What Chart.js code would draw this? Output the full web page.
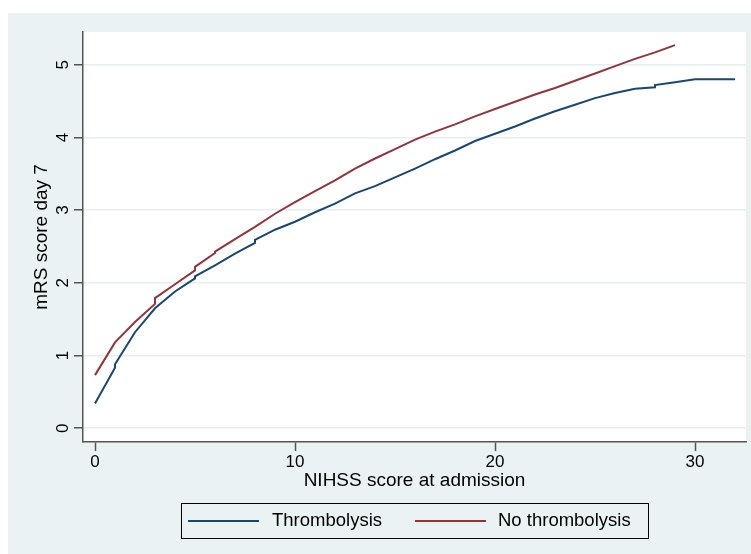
<!DOCTYPE html>
<html>
<head>
<meta charset="utf-8">
<script src="https://cdn.jsdelivr.net/npm/chart.js@4.4.0/dist/chart.umd.min.js"></script>
<style>
  html, body { margin: 0; padding: 0; background: #fff; }
</style>
</head>
<body>
<canvas id="myChart" width="751" height="554"></canvas>
<script>
// data (NIHSS score vs predicted mRS at day 7)
var thrombX = [0, 1, 1, 2, 3, 4, 5, 5, 6, 7, 8, 8, 9, 10, 11, 12, 13, 14, 15, 16, 17, 18, 19, 20, 21, 22, 23, 24, 25, 26, 27, 28, 28, 29, 30, 31, 32];
var thrombY = [0.34, 0.83, 0.88, 1.32, 1.65, 1.88, 2.06, 2.09, 2.24, 2.40, 2.55, 2.59, 2.73, 2.84, 2.97, 3.09, 3.23, 3.33, 3.45, 3.57, 3.70, 3.82, 3.95, 4.05, 4.15, 4.26, 4.36, 4.45, 4.54, 4.61, 4.67, 4.69, 4.72, 4.76, 4.80, 4.80, 4.80];

var noThrombX = [0, 1, 2, 3, 3, 4, 5, 5, 6, 6, 7, 8, 9, 10, 11, 12, 13, 14, 15, 16, 17, 18, 19, 20, 21, 22, 23, 24, 25, 26, 27, 28, 29];
var noThrombY = [0.73, 1.18, 1.46, 1.71, 1.79, 1.98, 2.17, 2.22, 2.41, 2.43, 2.60, 2.77, 2.95, 3.11, 3.26, 3.41, 3.57, 3.71, 3.84, 3.97, 4.08, 4.18, 4.29, 4.39, 4.49, 4.59, 4.68, 4.78, 4.88, 4.98, 5.08, 5.17, 5.27];

var seriesNames = ['Thrombolysis', 'No thrombolysis'];
var seriesColors = ['#1a476f', '#90353b'];
var xTicks = [0, 10, 20, 30];
var yTicks = [0, 1, 2, 3, 4, 5];
var xTitle = 'NIHSS score at admission';
var yTitle = 'mRS score day 7';

function toPoints(xs, ys) {
    return xs.map(function (x, i) { return { x: x, y: ys[i] }; });
}

var FONT = '"Liberation Sans", Arial, sans-serif';
var BG = '#eaf2f3';

// backgrounds, rotated y labels, axis titles and the boxed legend
var stataLook = {
    id: 'stataLook',
    beforeDraw: function (chart) {
        var c = chart.ctx, a = chart.chartArea;
        c.save();
        c.fillStyle = '#ffffff';
        c.fillRect(0, 0, chart.width, chart.height);
        c.fillStyle = BG;
        c.fillRect(8, 13, chart.width - 8, chart.height - 13);
        c.fillStyle = '#ffffff';
        c.fillRect(a.left, a.top, a.right - a.left, a.bottom - a.top);
        c.restore();
    },
    afterDraw: function (chart) {
        var c = chart.ctx, a = chart.chartArea;
        var ys = chart.scales.y;
        c.save();
        c.fillStyle = '#000';
        c.textAlign = 'center';
        c.textBaseline = 'middle';

        // y tick labels, turned like the original
        c.font = '17px ' + FONT;
        yTicks.forEach(function (v) {
            var py = ys.getPixelForValue(v);
            c.save();
            c.translate(63, py);
            c.rotate(-Math.PI / 2);
            c.fillText(String(v), 0, 0);
            c.restore();
        });

        // axis titles
        c.font = '19px ' + FONT;
        c.fillText(xTitle, (a.left + a.right) / 2, 481);
        c.save();
        c.translate(42, (a.top + a.bottom) / 2);
        c.rotate(-Math.PI / 2);
        c.fillText(yTitle, 0, 0);
        c.restore();

        // legend
        c.strokeStyle = '#000';
        c.lineWidth = 1;
        c.strokeRect(181.5, 503.5, 467, 35);
        var items = [[188, 259, 272], [415, 486, 498]];
        c.textAlign = 'left';
        c.font = '18.5px ' + FONT;
        items.forEach(function (it, i) {
            c.strokeStyle = seriesColors[i];
            c.lineWidth = 2;
            c.beginPath();
            c.moveTo(it[0], 521);
            c.lineTo(it[1], 521);
            c.stroke();
            c.fillText(seriesNames[i], it[2], 521);
        });
        c.restore();
    }
};

var ctx = document.getElementById('myChart').getContext('2d');
var myChart = new Chart(ctx, {
    type: 'scatter',
    data: {
        datasets: [{
            label: seriesNames[0],
            data: toPoints(thrombX, thrombY),
            showLine: true,
            borderColor: seriesColors[0],
            borderWidth: 2,
            pointRadius: 0,
            tension: 0
        }, {
            label: seriesNames[1],
            data: toPoints(noThrombX, noThrombY),
            showLine: true,
            borderColor: seriesColors[1],
            borderWidth: 2,
            pointRadius: 0,
            tension: 0
        }]
    },
    options: {
        responsive: false,
        animation: false,
        layout: { padding: { left: 0, top: 32, right: 5, bottom: 0 } },
        plugins: {
            legend: { display: false },
            tooltip: { enabled: false }
        },
        scales: {
            x: {
                type: 'linear',
                min: -0.6,
                max: 32.55,
                afterBuildTicks: function (s) { s.ticks = xTicks.map(function (v) { return { value: v }; }); },
                afterFit: function (s) { s.height = 112; },
                grid: { drawOnChartArea: false, tickColor: '#555', tickLength: 9, tickWidth: 1.5 },
                border: { color: '#555', width: 1.5 },
                ticks: {
                    color: '#000',
                    padding: 1,
                    maxRotation: 0,
                    font: { family: FONT, size: 17 }
                }
            },
            y: {
                type: 'linear',
                min: -0.19,
                max: 5.45,
                afterBuildTicks: function (s) { s.ticks = yTicks.map(function (v) { return { value: v }; }); },
                afterFit: function (s) { s.width = 83; },
                grid: { color: '#e6eef0', lineWidth: 1.5, tickColor: '#555', tickLength: 9, tickWidth: 1.5 },
                border: { color: '#555', width: 1.5 },
                ticks: { display: false }
            }
        }
    },
    plugins: [stataLook]
});
</script>
</body>
</html>
